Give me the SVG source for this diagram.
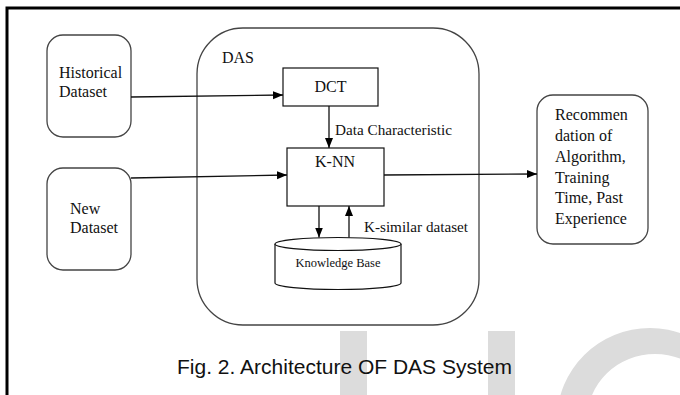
<svg xmlns="http://www.w3.org/2000/svg" width="680" height="395" viewBox="0 0 680 395">
<style>
.rb{fill:#fff;stroke:#444;stroke-width:1.3}
.bx{fill:#fff;stroke:#111;stroke-width:1.2}
.t{font-family:"Liberation Serif","Times New Roman",serif;font-size:16px;fill:#111}
.ts{font-family:"Liberation Serif","Times New Roman",serif;font-size:14.5px;fill:#111}
.cap{font-family:"Liberation Sans",Arial,sans-serif;font-size:21px;fill:#111}
.ln{fill:none;stroke:#111;stroke-width:1.3}
.wm{fill:#dcdcdc}
</style>
<defs>
<marker id="ah" viewBox="0 0 10 10" refX="10" refY="5" markerWidth="10" markerHeight="10" markerUnits="userSpaceOnUse" orient="auto">
<path d="M0,1 L10,5 L0,9 Z" fill="#000"/>
</marker>
</defs>
<rect x="0" y="0" width="680" height="395" fill="#fff"/>
<g id="watermark">
<rect class="wm" x="340" y="331" width="27" height="64"/>
<rect class="wm" x="488" y="331" width="27" height="64"/>
<path class="wm" fill-rule="evenodd" d="M557,420 A93,92 0 1,1 743,420 A93,92 0 1,1 557,420 Z M587,420 A68,66 0 1,0 723,420 A68,66 0 1,0 587,420 Z"/>
</g>
<g id="frame">
<path d="M7,395 L7,8 L680,8" fill="none" stroke="#000" stroke-width="3"/>
</g>
<g id="das">
<rect class="rb" x="197" y="28" width="282" height="297" rx="46" ry="46"/>
<text class="t" x="222" y="63">DAS</text>
</g>
<g id="historical">
<rect class="rb" x="47" y="35" width="84" height="102" rx="16" ry="16"/>
<text class="t" x="59" y="78">Historical</text>
<text class="t" x="59" y="97">Dataset</text>
</g>
<g id="new">
<rect class="rb" x="47" y="168" width="84" height="102" rx="16" ry="16"/>
<text class="t" x="70" y="214">New</text>
<text class="t" x="70" y="233">Dataset</text>
</g>
<g id="dct">
<rect class="bx" x="283" y="68" width="95" height="38"/>
<text class="t" x="330.5" y="92" text-anchor="middle">DCT</text>
</g>
<g id="knn">
<rect class="bx" x="287" y="148" width="97" height="58"/>
<text class="t" x="335" y="167" text-anchor="middle">K-NN</text>
</g>
<g id="kb">
<path class="bx" d="M275,244 L275,283 A63,6.5 0 0,0 401,283 L401,244"/>
<ellipse class="bx" cx="338" cy="244" rx="63" ry="6.5"/>
<text x="338" y="267" text-anchor="middle" style="font-family:'Liberation Serif','Times New Roman',serif;font-size:12.5px;fill:#111">Knowledge Base</text>
</g>
<g id="rec">
<rect class="rb" x="537" y="95" width="111" height="149" rx="16" ry="16"/>
<text class="t" x="555" y="120">Recommen</text>
<text class="t" x="555" y="141">dation of</text>
<text class="t" x="555" y="162">Algorithm,</text>
<text class="t" x="555" y="183">Training</text>
<text class="t" x="555" y="203">Time, Past</text>
<text class="t" x="555" y="224">Experience</text>
</g>
<g id="connectors">
<path class="ln" d="M131,97 L283,95" marker-end="url(#ah)"/>
<path class="ln" d="M131,178 L287,175" marker-end="url(#ah)"/>
<path class="ln" d="M329,106 L329,148" marker-end="url(#ah)"/>
<path class="ln" d="M384,175 L537,174" marker-end="url(#ah)"/>
<path class="ln" d="M319,206 L319,237.5" marker-end="url(#ah)"/>
<path class="ln" d="M349,237.5 L349,206" marker-end="url(#ah)"/>
<text class="ts" x="335" y="135" textLength="117" lengthAdjust="spacingAndGlyphs">Data Characteristic</text>
<text class="ts" x="364" y="232" textLength="104" lengthAdjust="spacingAndGlyphs">K-similar dataset</text>
</g>
<text class="cap" x="177" y="374">Fig. 2. Architecture OF DAS System</text>
</svg>
